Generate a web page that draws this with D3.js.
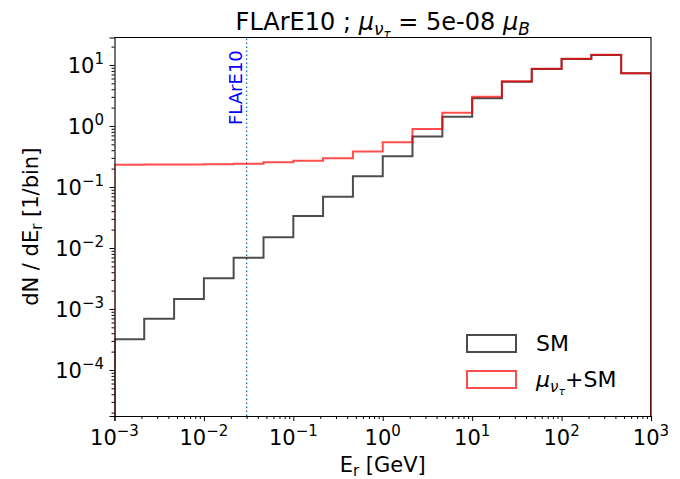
<!DOCTYPE html>
<html>
<head>
<meta charset="utf-8">
<script src="https://cdn.jsdelivr.net/npm/d3@7"></script>
<style>
  body { margin: 0; background: #fff; }
  svg { font-family: "DejaVu Sans", sans-serif; }
</style>
</head>
<body>
<svg id="chart" width="680" height="479"></svg>
<script>
// Bin edges (GeV), 3 bins per decade
const binEdges = [0.001, 0.00215, 0.00464, 0.01, 0.0215, 0.0464, 0.1, 0.215, 0.464,
  1, 2.15, 4.64, 10, 21.5, 46.4, 100, 215, 464, 1000];

// Counts per bin
const smCounts = [3.2e-4, 6.9e-4, 1.46e-3, 3.2e-3, 6.9e-3, 0.015, 0.0335, 0.069, 0.15,
  0.32, 0.67, 1.42, 2.84, 5.3, 8.6, 12.5, 14.6, 7.3];
const muSmCounts = [0.232, 0.233, 0.234, 0.236, 0.240, 0.254, 0.27, 0.295, 0.38,
  0.54, 0.89, 1.65, 3.0, 5.4, 8.7, 12.6, 14.7, 7.3];

const xTicks = [1e-3, 1e-2, 1e-1, 1, 10, 100, 1000];
const yTicks = [1e-4, 1e-3, 1e-2, 1e-1, 1, 10];
const tickExp = ["−4", "−3", "−2", "−1", "0", "1", "2", "3"];
const detectorLine = 0.03;

const svg = d3.select("#chart");
const margin = { left: 114.5, right: 29, top: 37.5, bottom: 63 };
const width = 680, height = 479;

const x = d3.scaleLog().domain([1e-3, 1e3]).range([margin.left, width - margin.right]);
const y = d3.scaleLog().domain([1.76e-5, 28.2]).range([height - margin.bottom, margin.top]);

svg.append("defs").append("clipPath").attr("id", "plot-clip")
  .append("rect")
  .attr("x", x.range()[0]).attr("y", y.range()[1])
  .attr("width", x.range()[1] - x.range()[0])
  .attr("height", y.range()[0] - y.range()[1]);

// step outline like matplotlib histtype='step'
function stepPath(counts) {
  const yb = y.range()[0];
  let d = `M${x(binEdges[0])},${yb}`;
  counts.forEach((c, i) => {
    d += `L${x(binEdges[i])},${y(c)}L${x(binEdges[i + 1])},${y(c)}`;
  });
  d += `L${x(binEdges[binEdges.length - 1])},${yb}`;
  return d;
}

const plot = svg.append("g").attr("clip-path", "url(#plot-clip)");

// vertical detector threshold line
plot.append("line")
  .attr("x1", x(detectorLine)).attr("x2", x(detectorLine))
  .attr("y1", y.range()[0]).attr("y2", y.range()[1])
  .attr("stroke", "#1f77b4").attr("stroke-width", 1.4)
  .attr("stroke-dasharray", "1.5,2.5");

plot.append("path").attr("d", stepPath(smCounts))
  .attr("fill", "none").attr("stroke", "black").attr("stroke-opacity", 0.7)
  .attr("stroke-width", 2);
plot.append("path").attr("d", stepPath(muSmCounts))
  .attr("fill", "none").attr("stroke", "red").attr("stroke-opacity", 0.7)
  .attr("stroke-width", 2);

svg.append("text")
  .attr("transform", `translate(${x(detectorLine) - 5},${125}) rotate(-90)`)
  .attr("fill", "blue").attr("font-size", 18)
  .text("FLArE10");

// axes
const xAxis = d3.axisBottom(x).tickValues(xTicks).tickSize(5).tickFormat("");
const gx = svg.append("g").attr("transform", `translate(0,${y.range()[0]})`).call(xAxis);
const xMinor = [];
for (let e = -3; e < 3; e++) for (let m = 2; m <= 9; m++) xMinor.push(m * 10 ** e);
svg.append("g").attr("transform", `translate(0,${y.range()[0]})`)
  .call(d3.axisBottom(x).tickValues(xMinor).tickSize(3).tickFormat(""))
  .call((g) => g.select(".domain").remove());

const yAxis = d3.axisLeft(y).tickValues(yTicks).tickSize(5).tickFormat("");
const gy = svg.append("g").attr("transform", `translate(${x.range()[0]},0)`).call(yAxis);
const yMinor = [];
for (let e = -5; e < 2; e++) for (let m = 2; m <= 9; m++) {
  const v = m * 10 ** e;
  if (v >= y.domain()[0] && v <= y.domain()[1]) yMinor.push(v);
}
svg.append("g").attr("transform", `translate(${x.range()[0]},0)`)
  .call(d3.axisLeft(y).tickValues(yMinor).tickSize(3).tickFormat(""))
  .call((g) => g.select(".domain").remove());

svg.selectAll(".domain").attr("stroke", "#000").attr("stroke-width", 1.1);
svg.selectAll(".tick line").attr("stroke", "#000").attr("stroke-width", 1);

// frame top/right
svg.append("path")
  .attr("d", `M${x.range()[0]},${y.range()[1]}H${x.range()[1]}V${y.range()[0]}`)
  .attr("fill", "none").attr("stroke", "#000").attr("stroke-width", 1.1);

// tick labels as 10^n
function powLabel(sel, v) {
  const e = Math.round(Math.log10(v));
  sel.append("tspan").text("10");
  sel.append("tspan").attr("dy", -9).attr("font-size", 15).text(e < 0 ? "−" + (-e) : String(e));
}
xTicks.forEach((v) => {
  const t = svg.append("text").attr("x", x(v)).attr("y", 445)
    .attr("text-anchor", "middle").attr("font-size", 21).attr("fill", "#000");
  powLabel(t, v);
});
yTicks.forEach((v) => {
  const t = svg.append("text").attr("x", 104).attr("y", y(v) + 8)
    .attr("text-anchor", "end").attr("font-size", 21).attr("fill", "#000");
  powLabel(t, v);
});

// axis titles
const xl = svg.append("text").attr("x", (x.range()[0] + x.range()[1]) / 2).attr("y", 472)
  .attr("text-anchor", "middle").attr("font-size", 21);
xl.append("tspan").text("E");
xl.append("tspan").attr("font-size", 15).attr("dy", 4).text("r");
xl.append("tspan").attr("dy", -4).text(" [GeV]");

const yl = svg.append("text")
  .attr("transform", `translate(38,${(y.range()[0] + y.range()[1]) / 2}) rotate(-90)`)
  .attr("text-anchor", "middle").attr("font-size", 21);
yl.append("tspan").text("dN / dE");
yl.append("tspan").attr("font-size", 15).attr("dy", 4).text("r");
yl.append("tspan").attr("dy", -4).text(" [1/bin]");

// title
const title = svg.append("text").attr("x", (x.range()[0] + x.range()[1]) / 2).attr("y", 30)
  .attr("text-anchor", "middle").attr("font-size", 24);
title.append("tspan").text("FLArE10 ; ");
title.append("tspan").attr("font-style", "italic").text("μ");
title.append("tspan").attr("font-style", "italic").attr("font-size", 17).attr("dy", 5).text("ν");
title.append("tspan").attr("font-style", "italic").attr("font-size", 12).attr("dy", 3).text("τ");
title.append("tspan").attr("dy", -8).text(" = 5e-08 ");
title.append("tspan").attr("font-style", "italic").text("μ");
title.append("tspan").attr("font-style", "italic").attr("font-size", 17).attr("dy", 5).text("B");

// legend
const legendItems = [
  { label: "SM", color: "black" },
  { label: "mu", color: "red" },
];
const lg = svg.append("g");
legendItems.forEach((d, i) => {
  const yy = 335 + i * 36;
  lg.append("rect").attr("x", 467).attr("y", yy).attr("width", 49).attr("height", 17)
    .attr("fill", "none").attr("stroke", d.color).attr("stroke-opacity", 0.7).attr("stroke-width", 2);
  const t = lg.append("text").attr("x", 536).attr("y", yy + 16).attr("font-size", 22);
  if (d.label === "SM") t.text("SM");
  else {
    t.append("tspan").attr("font-style", "italic").text("μ");
    t.append("tspan").attr("font-style", "italic").attr("font-size", 15).attr("dy", 5).text("ν");
    t.append("tspan").attr("font-style", "italic").attr("font-size", 11).attr("dy", 3).text("τ");
    t.append("tspan").attr("dy", -8).text("+SM");
  }
});
</script>
</body>
</html>
